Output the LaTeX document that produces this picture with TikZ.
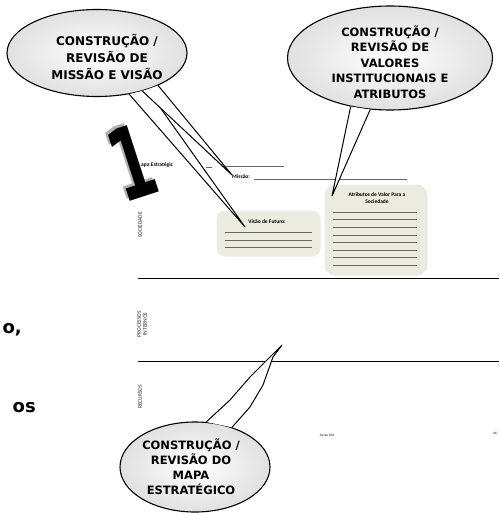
\documentclass[tikz,border=0pt]{standalone}
\usepackage{fontspec}
\setmainfont{Carlito}
\newfontfamily\balloonfont{DejaVu Sans}
\usetikzlibrary{shapes.geometric}
\definecolor{cardfill}{HTML}{ECEBE0}

\begin{document}
\begin{tikzpicture}[x=1pt, y=-1pt,
    callout/.style={ellipse, draw, line width=1.1pt, inner color=white, outer color=black!12},
    calltext/.style={align=center, font=\balloonfont\bfseries\fontsize{12}{17}\selectfont},
    tailline/.style={line width=1pt, line join=round},
    card/.style={draw=black!8, line width=1pt, fill=cardfill, rounded corners=8pt},
    cardtext/.style={align=center, font=\bfseries\fontsize{5.5}{6.5}\selectfont},
    rule/.style={black!60, line width=0.4pt},
    sidelabel/.style={rotate=90, align=center, font=\fontsize{5.5}{6}\selectfont, black!85}]
    \clip (0,0) rectangle (499,513);
    \fill[white] (0,0) rectangle (499,513);

    % page behind the balloons
    \draw[line width=0.8pt] (138,278) -- (499,278);
    \draw[line width=0.8pt] (138,361) -- (499,361);
    \node[sidelabel] (soc) at (140,225) {SOCIEDADE};
    \node[sidelabel] (proc) at (142,324) {PROCESSOS\\INTERNOS};
    \node[sidelabel] (rec) at (140,397) {RECURSOS};

    \node[cardtext, anchor=west, inner sep=0] (mapa) at (141,165) {apa Estratégic};
    \draw[rule] (206,167) -- (212,167);
    \draw[rule] (226,166) -- (284,166);
    \node[cardtext, anchor=west, inner sep=0] (missao) at (232,177) {Missão:};
    \draw[rule] (254,179) -- (407,179);

    \node[card, minimum width=103, minimum height=45] (visao) at (268.5,233.5) {};
    \node[cardtext, inner sep=0] (visaotxt) at (267,222) {Visão de Futuro:};
    \foreach \y in {232,240,247}
        \draw[rule] (225,\y) -- (312,\y);

    \node[card, rounded corners=10pt, minimum width=102, minimum height=90] (atrib) at (376,230) {};
    \node[cardtext, inner sep=0] (atribtxt) at (377,198) {Atributos de Valor Para a\\Sociedade};
    \foreach \k in {0,...,7}
        \draw[rule] (333,212+7.6*\k) -- (417,212+7.6*\k);

    \node[font=\fontsize{3.5}{4}\selectfont\bfseries, black!70] (curso) at (327,435) {Curso CNJ};
    \node[font=\fontsize{3.5}{4}\selectfont\bfseries, black!70] (pag) at (495,433) {46};

    \node[font=\balloonfont\bfseries\fontsize{18}{20}\selectfont, anchor=east, inner sep=0] (cut1) at (22,330) {o,};
    \node[font=\balloonfont\bfseries\fontsize{18}{20}\selectfont, anchor=east, inner sep=0] (cut2) at (36,408) {os};

    % big step number
    \node[black!30, font=\balloonfont\bfseries\fontsize{100}{100}\selectfont, rotate=18, xscale=0.6, inner sep=0] (oneshade) at (129,160) {1};
    \node[font=\balloonfont\bfseries\fontsize{100}{100}\selectfont, rotate=18, xscale=0.6, inner sep=0] (one) at (132,162) {1};

    % balloon 1
    \node[callout, minimum width=180, minimum height=87] (b1) at (97,53) {};
    \coordinate (visaotip) at (245,227);
    \coordinate (missaotip) at (232,175);
    \fill[white] (b1.-52) -- (visaotip) -- (b1.-36) -- cycle;
    \draw[tailline] (b1.-52) -- (visaotip) -- (b1.-36);
    \fill[white] (b1.-40) -- (missaotip) -- (b1.-28) -- cycle;
    \draw[tailline] (b1.-40) -- (missaotip) -- (b1.-28);
    \node[calltext] (b1txt) at (107,57) {CONSTRUÇÃO /\\REVISÃO DE\\MISSÃO E VISÃO};

    % balloon 2
    \node[callout, minimum width=205, minimum height=104] (b2) at (390,58) {};
    \coordinate (atribtip) at (332,196);
    \fill[white] (b2.-129) -- (atribtip) -- (b2.-111) -- cycle;
    \draw[tailline] (b2.-129) -- (atribtip) -- (b2.-111);
    \node[calltext, font=\balloonfont\bfseries\fontsize{11.5}{15.5}\selectfont] (b2txt) at (390,62)
        {CONSTRUÇÃO /\\REVISÃO DE\\VALORES\\INSTITUCIONAIS E\\ATRIBUTOS};

    % balloon 3
    \node[callout, minimum width=150, minimum height=90] (b3) at (195,467) {};
    \coordinate (mapatip) at (282,345);
    \fill[white] (b3.76) -- (230,400) -- (250,377) -- (mapatip) -- (273,357) -- (263,385) -- (250,407) -- (b3.47) -- cycle;
    \draw[tailline] (b3.76) -- (230,400) -- (250,377) -- (mapatip) -- (273,357) -- (263,385) -- (250,407) -- (b3.47);
    \node[calltext, font=\balloonfont\bfseries\fontsize{11.5}{15}\selectfont] (b3txt) at (191,467)
        {CONSTRUÇÃO /\\REVISÃO DO\\MAPA\\ESTRATÉGICO};
\end{tikzpicture}
\end{document}
